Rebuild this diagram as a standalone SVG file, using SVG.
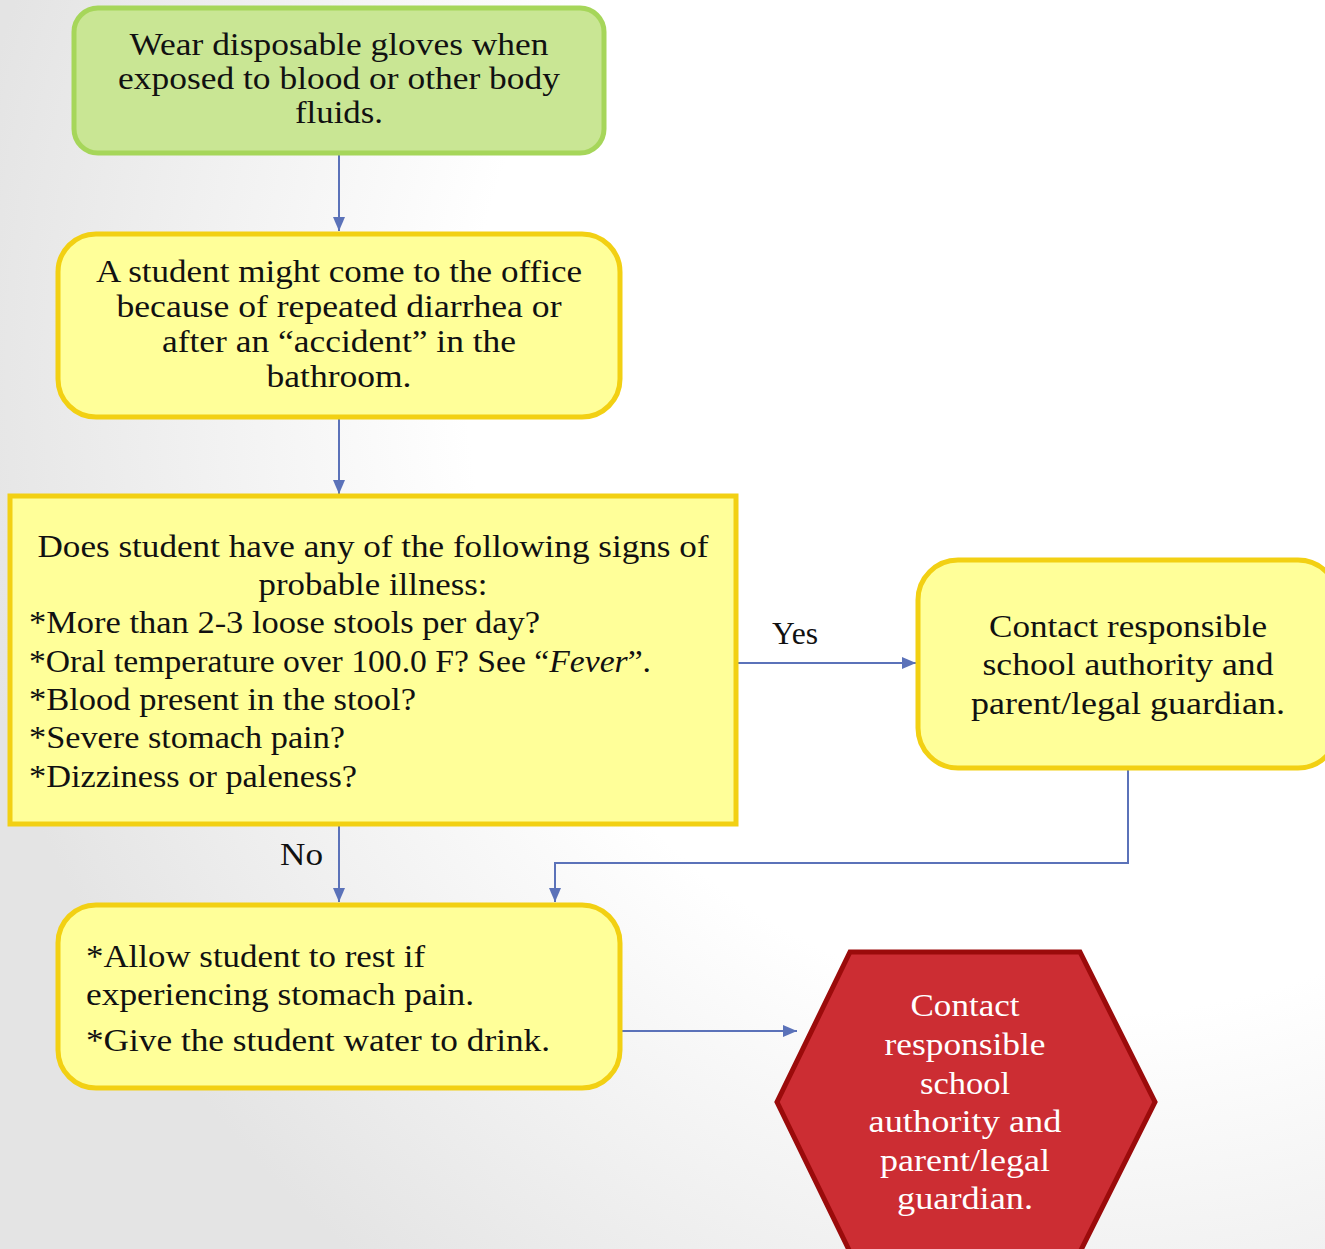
<svg xmlns="http://www.w3.org/2000/svg" width="1325" height="1249" viewBox="0 0 1325 1249">
<defs>
<radialGradient id="bg" cx="1100" cy="380" r="1150" gradientUnits="userSpaceOnUse">
<stop offset="0" stop-color="#ffffff"/>
<stop offset="0.55" stop-color="#ffffff"/>
<stop offset="1" stop-color="#e4e4e4"/>
</radialGradient>
<marker id="arr" markerWidth="16" markerHeight="12" refX="14" refY="6" orient="auto" markerUnits="userSpaceOnUse">
<path d="M0,0 L14,6 L0,12 Z" fill="#5b72b9"/>
</marker>
<style>
.t{font-family:"Liberation Serif","Times New Roman",serif;font-size:32px;fill:#111}
.c{text-anchor:middle}
.w{fill:#ffffff}
.green{fill:#c9e694;stroke:#a6d65a;stroke-width:5}
.yel{fill:#ffff99;stroke:#f2d013;stroke-width:5}
.red{fill:#cc2d33;stroke:#9b0b0b;stroke-width:5}
.con{fill:none;stroke:#5b72b9;stroke-width:2}
</style>
</defs>
<rect width="1325" height="1249" fill="url(#bg)"/>

<g id="connectors">
<line class="con" x1="339" y1="154" x2="339" y2="231" marker-end="url(#arr)"/>
<line class="con" x1="339" y1="419" x2="339" y2="494" marker-end="url(#arr)"/>
<line class="con" x1="737" y1="663" x2="916" y2="663" marker-end="url(#arr)"/>
<path class="con" d="M1128,769 V863 H555 V902" marker-end="url(#arr)"/>
<line class="con" x1="339" y1="826" x2="339" y2="902" marker-end="url(#arr)"/>
<line class="con" x1="621" y1="1031" x2="797" y2="1031" marker-end="url(#arr)"/>
<text class="t" x="772" y="644" textLength="46" lengthAdjust="spacingAndGlyphs">Yes</text>
<text class="t" x="280" y="865" textLength="43" lengthAdjust="spacingAndGlyphs">No</text>
</g>

<g id="node-gloves">
<rect class="green" x="74" y="8" width="530" height="145" rx="24"/>
<text class="t c" x="339" y="55" textLength="419" lengthAdjust="spacingAndGlyphs">Wear disposable gloves when</text>
<text class="t c" x="339" y="89" textLength="442" lengthAdjust="spacingAndGlyphs">exposed to blood or other body</text>
<text class="t c" x="339" y="123" textLength="88" lengthAdjust="spacingAndGlyphs">fluids.</text>
</g>

<g id="node-student">
<rect class="yel" x="58" y="234" width="562" height="183" rx="38"/>
<text class="t c" x="339" y="282" textLength="486" lengthAdjust="spacingAndGlyphs">A student might come to the office</text>
<text class="t c" x="339" y="317" textLength="445" lengthAdjust="spacingAndGlyphs">because of repeated diarrhea or</text>
<text class="t c" x="339" y="352" textLength="354" lengthAdjust="spacingAndGlyphs">after an “accident” in the</text>
<text class="t c" x="339" y="387" textLength="145" lengthAdjust="spacingAndGlyphs">bathroom.</text>
</g>

<g id="node-question">
<rect class="yel" x="10" y="496" width="726" height="328"/>
<text class="t c" x="373" y="557" textLength="671" lengthAdjust="spacingAndGlyphs">Does student have any of the following signs of</text>
<text class="t c" x="373" y="595" textLength="229" lengthAdjust="spacingAndGlyphs">probable illness:</text>
<text class="t" x="29" y="633" textLength="511" lengthAdjust="spacingAndGlyphs">*More than 2-3 loose stools per day?</text>
<text class="t" x="29" y="672" textLength="622" lengthAdjust="spacingAndGlyphs">*Oral temperature over 100.0 F? See “<tspan font-style="italic">Fever</tspan>”.</text>
<text class="t" x="29" y="710" textLength="387" lengthAdjust="spacingAndGlyphs">*Blood present in the stool?</text>
<text class="t" x="29" y="748" textLength="316" lengthAdjust="spacingAndGlyphs">*Severe stomach pain?</text>
<text class="t" x="29" y="787" textLength="328" lengthAdjust="spacingAndGlyphs">*Dizziness or paleness?</text>
</g>

<g id="node-contact">
<rect class="yel" x="918" y="560" width="420" height="208" rx="40"/>
<text class="t c" x="1128" y="637" textLength="278" lengthAdjust="spacingAndGlyphs">Contact responsible</text>
<text class="t c" x="1128" y="675" textLength="291" lengthAdjust="spacingAndGlyphs">school authority and</text>
<text class="t c" x="1128" y="714" textLength="314" lengthAdjust="spacingAndGlyphs">parent/legal guardian.</text>
</g>

<g id="node-rest">
<rect class="yel" x="58" y="905" width="562" height="183" rx="38"/>
<text class="t" x="86" y="967" textLength="339" lengthAdjust="spacingAndGlyphs">*Allow student to rest if</text>
<text class="t" x="86" y="1005" textLength="388" lengthAdjust="spacingAndGlyphs">experiencing stomach pain.</text>
<text class="t" x="86" y="1051" textLength="464" lengthAdjust="spacingAndGlyphs">*Give the student water to drink.</text>
</g>

<g id="node-hexagon">
<polygon class="red" points="850,952 1080,952 1155,1102 1080,1252 850,1252 777,1102"/>
<text class="t c w" x="965" y="1016" textLength="109" lengthAdjust="spacingAndGlyphs">Contact</text>
<text class="t c w" x="965" y="1055" textLength="161" lengthAdjust="spacingAndGlyphs">responsible</text>
<text class="t c w" x="965" y="1094" textLength="90" lengthAdjust="spacingAndGlyphs">school</text>
<text class="t c w" x="965" y="1132" textLength="193" lengthAdjust="spacingAndGlyphs">authority and</text>
<text class="t c w" x="965" y="1171" textLength="170" lengthAdjust="spacingAndGlyphs">parent/legal</text>
<text class="t c w" x="965" y="1209" textLength="136" lengthAdjust="spacingAndGlyphs">guardian.</text>
</g>
</svg>
